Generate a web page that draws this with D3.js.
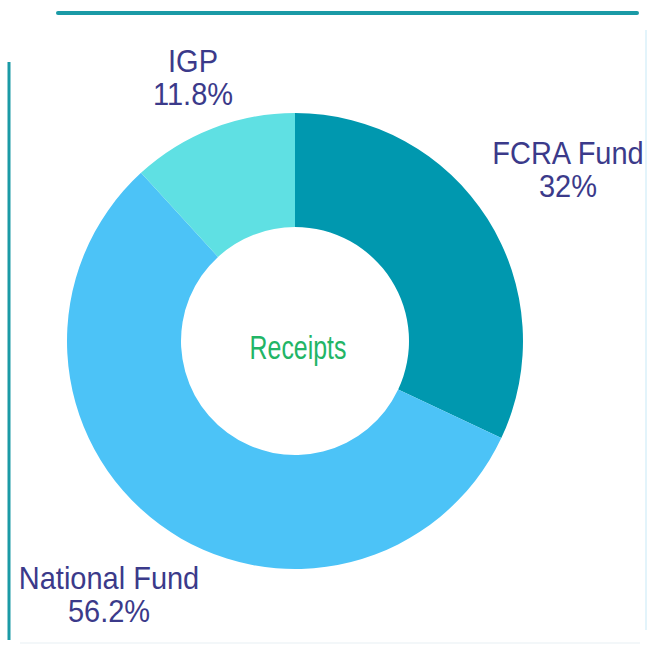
<!DOCTYPE html>
<html>
<head>
<meta charset="utf-8">
<script src="https://cdn.jsdelivr.net/npm/d3@7"></script>
<style>
  body { margin: 0; background: #fff; }
</style>
</head>
<body>
<div id="chart"></div>
<script>
// Receipts donut

var categories = ["FCRA Fund", "National Fund", "IGP"];
var shares = [32, 56.2, 11.8];
var shareLabels = ["32%", "56.2%", "11.8%"];
var colors = ["#0098af", "#4cc3f7", "#5fe0e3"];

var width = 657, height = 655;
var cx = 295, cy = 341,
  outerR = 228, innerR = 114;

var svg = d3.select("#chart").append("svg")
  .attr("width", width)
  .attr("height", height);

// frame lines
svg.append("line")
  .attr("x1", 58).attr("y1", 13).attr("x2", 637).attr("y2", 13)
  .attr("stroke", "#1a9aa6")
  .attr("stroke-width", 4)
  .attr("stroke-linecap", "round");

svg.append("line")
  .attr("x1", 9).attr("y1", 62).attr("x2", 9).attr("y2", 640)
  .attr("stroke", "#1a9aa6")
  .attr("stroke-width", 3);

svg.append("line")
  .attr("x1", 646).attr("y1", 30).attr("x2", 646).attr("y2", 630)
  .attr("stroke", "#e3f4fb")
  .attr("stroke-width", 2);

svg.append("line")
  .attr("x1", 20).attr("y1", 643).attr("x2", 640).attr("y2", 643)
  .attr("stroke", "#f3f7f9")
  .attr("stroke-width", 2);

var pie = d3.pie().sort(null).value(d => d);
var arc = d3.arc().innerRadius(innerR).outerRadius(outerR);

var g = svg.append("g")
  .attr("transform", "translate(" + cx + "," + cy + ")");

g.selectAll("path")
  .data(pie(shares))
  .enter().append("path")
    .attr("d", arc)
    .attr("fill", (d, i) => colors[i]);

// labels, [x, y of first baseline]
var labelPos = [[568, 164], [109, 589], [193, 72]];

svg.selectAll("g.lab")
  .data(categories)
  .enter().append("g")
    .attr("class", "lab")
    .attr("transform", (d, i) => "translate(" + labelPos[i][0] + "," + labelPos[i][1] + ") scale(1,1.1)")
  .append("text")
    .attr("text-anchor", "middle")
    .style("font-family", "'Liberation Sans', Arial, sans-serif")
    .style("font-size", "29px")
    .style("fill", "#3b3a8a")
    .each(function(d, i) {
      var t = d3.select(this);
      t.append("tspan").attr("x", 0).text(d);
      t.append("tspan").attr("x", 0).attr("dy", 30).text(shareLabels[i]);
    });

svg.append("g")
  .attr("transform", "translate(298,359) scale(0.83,1.08)")
  .append("text")
  .attr("text-anchor", "middle")
  .style("font-family", "'Liberation Sans', Arial, sans-serif")
  .style("font-size", "30px")
  .style("fill", "#22b566")
  .text("Receipts");
</script>
</body>
</html>
